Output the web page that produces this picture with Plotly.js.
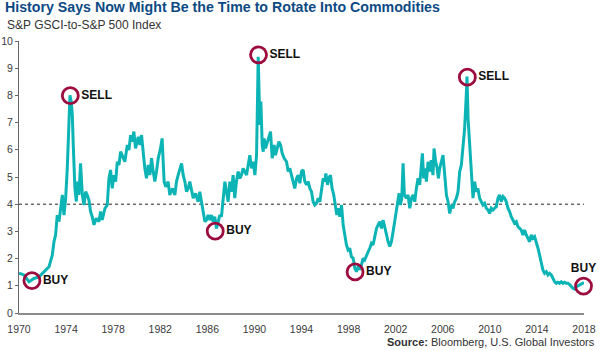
<!DOCTYPE html>
<html>
<head>
<meta charset="utf-8">
<script src="https://cdn.plot.ly/plotly-3.0.1.min.js"></script>
<style>
  html, body { margin: 0; padding: 0; background: #ffffff; }
  #chart { width: 600px; height: 350px; }
</style>
</head>
<body>
<div id="chart"></div>
<script>
// ---- Data ----
const years = [
  1970.00,1970.42,1970.85,1971.27,1971.70,1972.12,1972.55,1972.83,1972.97,1973.11,
  1973.25,1973.40,1973.54,1973.68,1973.82,1973.96,1974.10,1974.24,1974.33,1974.44,
  1974.53,1974.61,1974.75,1974.87,1974.98,1975.09,1975.23,1975.38,1975.52,1975.66,
  1975.80,1975.94,1976.08,1976.22,1976.37,1976.56,1976.79,1976.93,1977.07,1977.30,
  1977.50,1977.64,1977.78,1977.92,1978.06,1978.21,1978.35,1978.49,1978.63,1978.77,
  1978.99,1979.20,1979.34,1979.48,1979.62,1979.76,1979.90,
  1980.13,1980.27,1980.41,1980.55,1980.69,1980.83,1980.98,1981.12,1981.26,1981.40,
  1981.54,1981.68,1981.83,1982.02,1982.16,1982.25,1982.33,1982.47,1982.67,1982.81,
  1983.04,1983.24,1983.38,1983.52,1983.66,1983.81,1983.95,1984.09,1984.23,1984.37,
  1984.51,1984.66,1984.80,1985.00,1985.22,1985.36,1985.50,1985.65,1985.79,1985.93,
  1986.07,1986.21,1986.35,1986.49,1986.63,1986.78,1986.92,1987.06,1987.20,1987.34,
  1987.49,1987.63,1987.77,1987.91,1988.05,1988.19,1988.33,1988.47,1988.62,1988.76,
  1988.90,1989.04,1989.18,
  1989.33,1989.47,1989.61,1989.76,1989.90,1990.04,1990.18,1990.26,1990.32,1990.40,
  1990.46,1990.55,1990.66,1990.75,1990.83,1990.94,1991.09,1991.23,1991.37,1991.51,
  1991.68,1991.79,1991.93,1992.08,1992.22,1992.36,1992.53,1992.73,1992.87,1993.01,
  1993.15,1993.29,1993.43,1993.58,1993.72,1993.86,1994.00,1994.14,1994.28,1994.43,
  1994.57,1994.71,1994.85,1994.99,1995.13,1995.27,1995.42,1995.56,1995.70,1995.84,
  1995.98,1996.07,1996.21,1996.32,1996.46,1996.60,1996.74,1996.89,1997.00,1997.11,
  1997.25,1997.40,1997.54,1997.68,1997.82,1997.96,1998.10,1998.24,1998.39,1998.53,
  1998.67,1998.81,1998.95,1999.09,
  1999.23,1999.37,1999.51,1999.66,1999.80,1999.94,2000.08,2000.22,2000.37,2000.51,
  2000.65,2000.79,2000.93,2001.07,2001.21,2001.36,2001.50,2001.64,2001.78,2001.92,
  2002.06,2002.20,2002.29,2002.40,2002.52,2002.63,2002.74,2002.91,2003.05,2003.20,
  2003.34,2003.48,2003.62,2003.76,2003.90,2004.04,2004.18,2004.27,2004.38,2004.50,
  2004.61,2004.75,2004.89,2005.03,2005.17,2005.26,2005.40,2005.52,2005.63,2005.74,
  2005.88,2006.02,2006.17,2006.31,2006.45,2006.59,2006.73,2006.87,2007.01,2007.16,
  2007.30,2007.44,2007.58,2007.72,2007.86,2008.00,2008.06,2008.15,2008.29,2008.43,
  2008.57,2008.71,2008.85,
  2008.99,2009.13,2009.28,2009.42,2009.56,2009.70,2009.84,2009.98,2010.12,2010.27,
  2010.41,2010.55,2010.69,2010.83,2010.97,2011.12,2011.26,2011.40,2011.54,2011.68,
  2011.82,2011.96,2012.10,2012.25,2012.39,2012.53,2012.67,2012.81,2012.95,2013.10,
  2013.24,2013.38,2013.52,2013.66,2013.80,2013.95,2014.09,2014.23,2014.37,2014.51,
  2014.65,2014.80,2014.94,2015.08,2015.22,2015.36,2015.50,2015.64,2015.78,2015.92,
  2016.07,2016.21,2016.35,2016.49,2016.63,2016.77,2016.92,2017.06,2017.20,2017.34,
  2017.48,2017.62,2017.77,2017.91,2018.00
];
const ratio = [
  1.46,1.40,1.15,1.27,1.33,1.50,1.70,2.13,2.62,2.87,
  3.60,3.36,3.85,4.34,3.60,4.20,5.30,7.16,8.00,7.77,
  7.28,6.18,4.58,4.10,4.83,4.34,5.50,4.34,3.97,4.46,
  4.34,4.15,3.73,3.54,3.24,3.48,3.36,3.73,3.42,3.85,
  3.97,4.95,5.26,4.58,5.07,4.83,5.56,5.44,5.93,5.80,
  5.56,6.18,5.99,6.54,6.30,6.67,6.05,
  6.48,6.18,6.54,5.80,5.32,4.95,5.44,5.07,5.69,5.20,
  4.83,5.20,5.69,6.05,6.42,5.56,4.83,4.64,4.83,4.34,
  4.58,4.34,4.83,5.07,5.32,5.50,5.07,4.83,4.46,4.58,
  4.83,4.46,4.22,4.40,4.09,4.46,4.09,3.66,3.36,3.42,
  3.60,3.42,3.60,3.36,3.54,3.11,3.42,3.60,3.54,4.34,
  4.83,4.46,4.09,4.83,4.46,5.07,4.22,4.83,5.20,4.95,
  5.07,5.32,5.20,
  5.07,5.44,5.80,5.32,5.56,5.07,5.80,7.77,9.42,8.01,
  6.91,7.77,6.18,5.93,6.42,6.05,6.30,6.54,6.67,5.69,
  6.18,5.80,6.05,6.30,6.18,5.87,5.69,5.56,5.20,5.32,
  5.07,4.83,4.58,4.95,5.07,4.77,5.20,5.26,4.83,4.71,
  4.83,4.58,4.46,4.09,3.97,4.03,4.22,4.09,4.58,4.95,
  4.83,5.13,4.71,4.95,5.07,4.58,4.34,3.97,3.60,3.85,
  3.54,3.97,3.24,2.87,2.50,2.32,2.38,2.07,2.01,1.64,
  1.52,1.70,1.64,1.76,
  2.01,1.95,2.13,2.25,2.38,2.56,2.50,2.87,3.11,3.24,
  3.36,3.11,3.42,3.17,2.87,2.62,2.44,2.62,2.99,3.36,
  3.73,4.09,4.40,3.97,4.22,5.50,4.34,4.22,4.34,3.85,
  4.22,4.34,4.09,4.58,4.95,4.71,5.32,5.87,4.95,5.32,
  4.83,5.56,5.20,5.62,5.07,6.05,5.56,5.32,4.95,5.32,
  5.56,5.80,5.07,4.34,4.09,3.66,3.97,3.85,4.09,4.22,
  4.46,5.20,5.44,6.18,6.79,8.01,8.69,7.16,6.05,4.95,
  4.22,4.83,4.46,
  4.58,4.22,4.09,3.97,4.03,3.85,3.79,3.66,3.85,3.79,
  3.85,3.91,4.22,4.34,4.09,4.28,4.22,4.09,3.85,3.73,
  3.54,3.42,3.30,3.36,3.17,3.11,3.05,2.87,3.05,2.87,
  2.75,2.62,2.87,2.75,2.81,2.62,2.38,2.13,1.89,1.58,
  1.46,1.52,1.40,1.46,1.40,1.27,1.15,1.09,1.13,1.09,
  1.15,1.09,1.13,1.09,1.09,1.05,0.97,0.91,0.88,0.97,
  1.00,1.03,1.05,1.09,1.12
];
const signalYears  = [1971.1, 1974.36, 1986.67, 1990.35, 1998.55, 2008.09, 2017.96];
const signalValues = [1.19, 7.99, 3.01, 9.49, 1.51, 8.67, 0.99];
const signalLabels = ['BUY', 'SELL', 'BUY', 'SELL', 'BUY', 'SELL', 'BUY'];
const signalTextPos = ['middle right','middle right','middle right','middle right','middle right','middle right','top center'];
const thresholdValue = [4];
const xTickYears = [1970,1974,1978,1982,1986,1990,1994,1998,2002,2006,2010,2014,2018];
const yTicks = [0,1,2,3,4,5,6,7,8,9,10];

const titleText = 'History Says Now Might Be the Time to Rotate Into Commodities';
const subtitleText = 'S&P GSCI-to-S&P 500 Index';
const sourceText = '<b>Source:</b> Bloomberg, U.S. Global Investors';

// ---- Styling ----
const NARROW = 'Liberation Sans Narrow, Arial Narrow, sans-serif';
const TEAL = '#0db4b6';
const CRIMSON = '#9d0c3f';

const traces = [
  {
    x: years, y: ratio, type: 'scatter', mode: 'lines',
    line: { color: TEAL, width: 3 },
    hoverinfo: 'skip', showlegend: false
  },
  {
    x: signalYears, y: signalValues, type: 'scatter', mode: 'markers+text',
    text: signalLabels, textposition: signalTextPos,
    textfont: { family: NARROW, size: 12, color: '#111111', weight: 'bold' },
    marker: { symbol: 'circle-open', size: 16, color: CRIMSON, line: { width: 2.8, color: CRIMSON } },
    cliponaxis: false, hoverinfo: 'skip', showlegend: false
  }
];

const layout = {
  width: 600, height: 350,
  margin: { l: 19, r: 16, t: 41, b: 37, pad: 0 },
  paper_bgcolor: '#ffffff', plot_bgcolor: '#ffffff',
  showlegend: false,
  title: {
    text: '<b>' + titleText + '</b>',
    font: { family: NARROW, size: 14.2, color: '#0d4a83' },
    xref: 'container', yref: 'container',
    x: 5 / 600, xanchor: 'left', y: 1 - 2 / 350, yanchor: 'top',
    pad: { t: 0, l: 0, r: 0, b: 0 }
  },
  xaxis: {
    range: [1970, 2018], type: 'linear',
    tickvals: xTickYears, ticktext: xTickYears.map(String),
    ticks: 'outside', ticklen: 5, tickcolor: 'rgba(0,0,0,0)',
    showline: true, linecolor: '#8c8c8c', linewidth: 2,
    showgrid: false, zeroline: false,
    tickfont: { family: NARROW, size: 10.5, color: '#3a3a3a' }
  },
  yaxis: {
    range: [0, 10], tickvals: yTicks,
    ticks: 'outside', ticklen: 3, tickcolor: '#666666', tickwidth: 1,
    showline: true, linecolor: '#666666', linewidth: 1,
    showgrid: false, zeroline: false,
    tickfont: { family: NARROW, size: 10.5, color: '#3a3a3a' }
  },
  shapes: thresholdValue.map(v => ({
    type: 'line', xref: 'paper', x0: 0, x1: 1, yref: 'y', y0: v, y1: v,
    line: { color: '#222222', width: 1, dash: 'dot' }, layer: 'below'
  })),
  annotations: [
    {
      text: subtitleText, showarrow: false,
      xref: 'paper', yref: 'paper', x: -14 / 565, xanchor: 'left',
      y: 1 + 16 / 272, yanchor: 'middle',
      font: { family: NARROW, size: 12, color: '#333333' }
    },
    {
      text: sourceText, showarrow: false,
      xref: 'paper', yref: 'paper', x: 1 + 13 / 565, xanchor: 'right',
      y: -29 / 272, yanchor: 'middle',
      font: { family: NARROW, size: 11, color: '#333333' }
    }
  ]
};

Plotly.newPlot('chart', traces, layout, { staticPlot: true, displayModeBar: false });
</script>
</body>
</html>
